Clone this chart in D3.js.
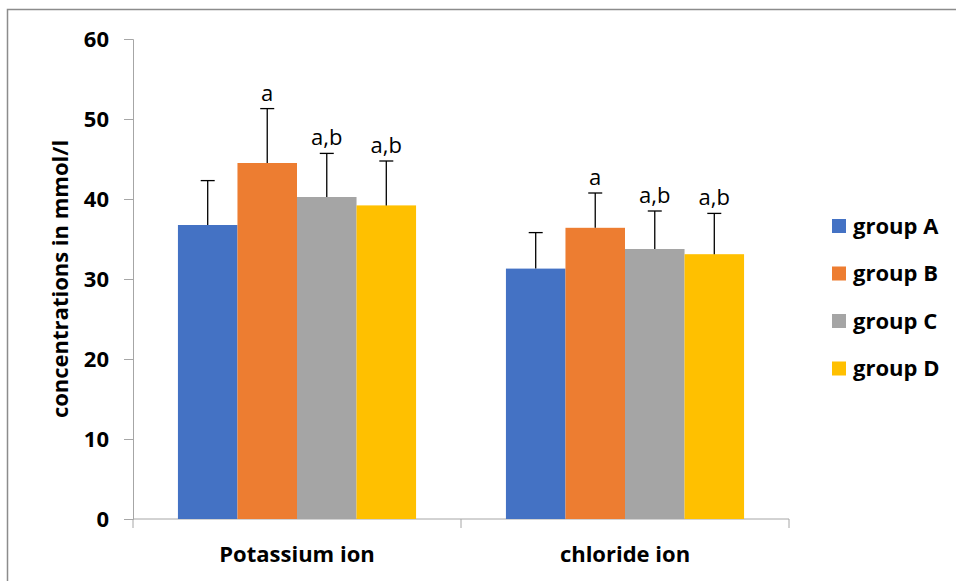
<!DOCTYPE html>
<html>
<head>
<meta charset="utf-8">
<script src="https://cdn.jsdelivr.net/npm/d3@7"></script>
<style>
	body { margin: 0; background: #fff; }
	text { font-family: "Open Sans", sans-serif; fill: #000; }
</style>
</head>
<body>
<div id="main"></div>
<script>

var WIDTH = 956, HEIGHT = 581;

// data
var categories = ["Potassium ion", "chloride ion"];
var groups = ["group A", "group B", "group C", "group D"];
var colors = ["#4472c4", "#ed7d31", "#a5a5a5", "#ffc000"];

var groupA = [36.75, 31.3];
var groupB = [44.5, 36.4];
var groupC = [40.25, 33.75];
var groupD = [39.2, 33.1];

var errA = [5.55, 4.5];
var errB = [6.8, 4.35];
var errC = [5.45, 4.75];
var errD = [5.55, 5.1];

var labelsA = ["", ""];
var labelsB = ["a", "a"];
var labelsC = ["a,b", "a,b"];
var labelsD = ["a,b", "a,b"];

var yTicks = [0, 10, 20, 30, 40, 50, 60];

var series = [
	{ name: groups[0], values: groupA, errors: errA, labels: labelsA },
	{ name: groups[1], values: groupB, errors: errB, labels: labelsB },
	{ name: groups[2], values: groupC, errors: errC, labels: labelsC },
	{ name: groups[3], values: groupD, errors: errD, labels: labelsD }
];

var plot = { left: 133, right: 789, top: 39, bottom: 519 };

var canvas, x0, x1, y;

function createCanvas() {
	canvas = d3.select("#main").append("svg")
		.attr("id", "canvas")
		.attr("width", WIDTH)
		.attr("height", HEIGHT);

	// outer frame, runs off the right and bottom edge
	canvas.append("rect")
		.attr("x", 7.5)
		.attr("y", 9.5)
		.attr("width", 1200)
		.attr("height", 1200)
		.attr("fill", "none")
		.attr("stroke", "#8c8c8c")
		.attr("stroke-width", 1.5);
}

function drawAxes() {
	y = d3.scaleLinear().domain([0, 60]).range([plot.bottom, plot.top]);
	x0 = d3.scaleBand().domain(categories).range([plot.left, plot.right]);
	var gap = x0.bandwidth() * 0.137;
	x1 = d3.scaleBand().domain(groups).range([gap, x0.bandwidth() - gap]);

	var yAxis = canvas.append("g")
		.attr("class", "y axis")
		.attr("transform", "translate(" + plot.left + ",0)")
		.call(d3.axisLeft(y).tickValues(yTicks).tickSize(9).tickPadding(15).tickFormat(d3.format("d")));
	yAxis.select(".domain").attr("stroke", "#a6a6a6");
	yAxis.selectAll(".tick line").attr("stroke", "#a6a6a6");
	yAxis.selectAll(".tick text")
		.attr("font-family", "Open Sans")
		.attr("font-size", 22)
		.attr("font-weight", "bold")
		.attr("fill", "#000")
		.attr("dy", "0.36em");

	// category axis: line plus ticks between the categories
	var xAxis = canvas.append("g").attr("class", "x axis");
	xAxis.append("line")
		.attr("x1", plot.left).attr("x2", plot.right)
		.attr("y1", y(0)).attr("y2", y(0))
		.attr("stroke", "#a6a6a6");
	var edges = categories.map(function(c) { return x0(c); }).concat([plot.right]);
	xAxis.selectAll(".edge").data(edges).enter().append("line")
		.attr("class", "edge")
		.attr("x1", function(d) { return d; }).attr("x2", function(d) { return d; })
		.attr("y1", y(0)).attr("y2", y(0) + 9)
		.attr("stroke", "#a6a6a6");
	xAxis.selectAll(".cat").data(categories).enter().append("text")
		.attr("class", "cat")
		.attr("x", function(d) { return x0(d) + x0.bandwidth() / 2; })
		.attr("y", y(0) + 43)
		.attr("text-anchor", "middle")
		.attr("font-size", 22)
		.attr("font-weight", "bold")
		.text(function(d) { return d; });

	canvas.append("text")
		.attr("transform", "translate(68," + (plot.top + plot.bottom) / 2 + ") rotate(-90)")
		.attr("text-anchor", "middle")
		.attr("font-size", 22)
		.attr("font-weight", "bold")
		.text("concentrations in mmol/l");
}

function drawBars() {
	var g = canvas.append("g").attr("class", "bars");
	series.forEach(function(s, i) {
		var pts = categories.map(function(c, j) {
			return { cat: c, v: s.values[j], e: s.errors[j], lab: s.labels[j] };
		});
		var sg = g.append("g");
		var cx = function(d) { return x0(d.cat) + x1(s.name) + x1.bandwidth() / 2; };

		sg.selectAll("rect").data(pts).enter().append("rect")
			.attr("x", function(d) { return x0(d.cat) + x1(s.name); })
			.attr("y", function(d) { return y(d.v); })
			.attr("width", x1.bandwidth())
			.attr("height", function(d) { return y(0) - y(d.v); })
			.attr("fill", colors[i]);

		// upper error bars only
		sg.selectAll(".err").data(pts).enter().append("line")
			.attr("class", "err")
			.attr("x1", cx).attr("x2", cx)
			.attr("y1", function(d) { return y(d.v); })
			.attr("y2", function(d) { return y(d.v + d.e); })
			.attr("stroke", "#000")
			.attr("stroke-width", 1.3);
		sg.selectAll(".cap").data(pts).enter().append("line")
			.attr("class", "cap")
			.attr("x1", function(d) { return cx(d) - 7; })
			.attr("x2", function(d) { return cx(d) + 7; })
			.attr("y1", function(d) { return y(d.v + d.e); })
			.attr("y2", function(d) { return y(d.v + d.e); })
			.attr("stroke", "#000")
			.attr("stroke-width", 1.3);

		sg.selectAll(".sig").data(pts).enter().append("text")
			.attr("class", "sig")
			.attr("x", cx)
			.attr("y", function(d) { return y(d.v + d.e) - 8; })
			.attr("text-anchor", "middle")
			.attr("font-size", 22)
			.attr("fill", "#262626")
			.text(function(d) { return d.lab; });
	});
}

function drawLegend() {
	var lg = canvas.append("g").attr("class", "legend")
		.attr("transform", "translate(832,226)");
	var items = lg.selectAll("g").data(groups).enter().append("g")
		.attr("transform", function(d, i) { return "translate(0," + i * 47.5 + ")"; });
	items.append("rect")
		.attr("x", 0).attr("y", -7)
		.attr("width", 14).attr("height", 14)
		.attr("fill", function(d, i) { return colors[i]; });
	items.append("text")
		.attr("x", 21)
		.attr("y", 0)
		.attr("dy", "0.36em")
		.attr("font-size", 22)
		.attr("font-weight", "bold")
		.text(function(d) { return d; });
}

createCanvas();
drawAxes();
drawBars();
drawLegend();

</script>
</body>
</html>
